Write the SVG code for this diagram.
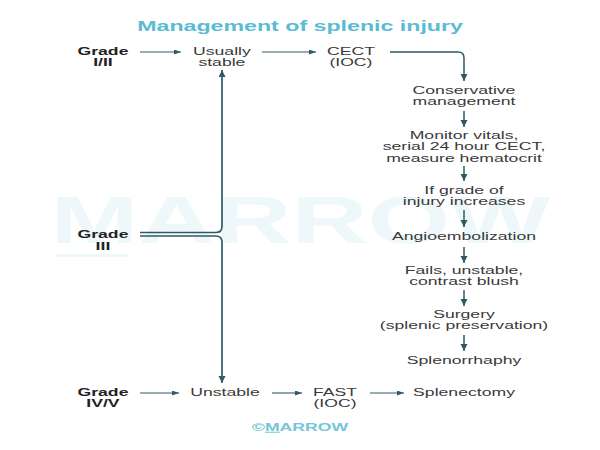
<svg xmlns="http://www.w3.org/2000/svg" width="600" height="450" viewBox="0 0 600 450">
<style>
.t{font-family:"Liberation Sans",Arial,sans-serif;font-size:10.5px;fill:#3a3a3a;text-anchor:middle}
.g{font-weight:bold;fill:#222}
.c{fill:none;stroke:#2e5c66;stroke-width:1.5}
.h{stroke-width:1.1}
.b{stroke-width:1.7}
</style>
<defs>
<marker id="ah" markerUnits="userSpaceOnUse" markerWidth="8" markerHeight="8" refX="7" refY="3.5" orient="auto"><path d="M0,0 L7,3.5 L0,7 z" fill="#2e5c66"/></marker>
<marker id="as" markerUnits="userSpaceOnUse" markerWidth="8" markerHeight="6" refX="7" refY="2.5" orient="auto"><path d="M0,0 L7,2.5 L0,5 z" fill="#2e5c66"/></marker>
</defs>
<rect width="600" height="450" fill="#fff"/>
<g id="watermark" fill="#eef8fa">
<text x="50" y="243" font-family="'Liberation Sans',Arial,sans-serif" font-size="66" font-weight="bold" textLength="500" lengthAdjust="spacingAndGlyphs">MARROW</text>
<rect x="55" y="254" width="73" height="3"/>
</g>
<g id="connectors">
<line class="c h" x1="140" y1="52" x2="181" y2="52" marker-end="url(#as)"/>
<line class="c h" x1="262" y1="52" x2="316" y2="52" marker-end="url(#as)"/>
<path class="c" d="M390,52 H458 Q464,52 464,58 V81" marker-end="url(#ah)"/>
<line class="c" x1="464" y1="111" x2="464" y2="127" marker-end="url(#ah)"/>
<line class="c" x1="464" y1="166" x2="464" y2="181" marker-end="url(#ah)"/>
<line class="c" x1="464" y1="210" x2="464" y2="227" marker-end="url(#ah)"/>
<line class="c" x1="464" y1="247" x2="464" y2="263" marker-end="url(#ah)"/>
<line class="c" x1="464" y1="290" x2="464" y2="306" marker-end="url(#ah)"/>
<line class="c" x1="464" y1="335" x2="464" y2="351" marker-end="url(#ah)"/>
<line class="c h" x1="140" y1="393" x2="179" y2="393" marker-end="url(#as)"/>
<line class="c h" x1="272" y1="393" x2="302" y2="393" marker-end="url(#as)"/>
<line class="c h" x1="370" y1="393" x2="404" y2="393" marker-end="url(#as)"/>
<path class="c b" d="M140,232.5 H216 Q222,232.5 222,226.5 V70" marker-end="url(#ah)"/>
<path class="c b" d="M140,236 H216 Q222,236 222,242 V383" marker-end="url(#ah)"/>
</g>
<g transform="scale(1.68,1)">
<g id="title"><text class="t" x="178.6" y="31" style="font-size:13.8px;font-weight:bold;fill:#5bbbd4">Management of splenic injury</text></g>
<g id="grade12"><text class="t g" x="61.3" y="55">Grade</text><text class="t g" x="61.3" y="66.5">I/II</text></g>
<g id="usually"><text class="t" x="132.1" y="55">Usually</text><text class="t" x="132.1" y="66.5">stable</text></g>
<g id="cect"><text class="t" x="208.9" y="55">CECT</text><text class="t" x="208.9" y="66.5">(IOC)</text></g>
<g id="conservative"><text class="t" x="276.2" y="94">Conservative</text><text class="t" x="276.2" y="105.5">management</text></g>
<g id="monitor"><text class="t" x="276.2" y="139">Monitor vitals,</text><text class="t" x="276.2" y="150.5">serial 24 hour CECT,</text><text class="t" x="276.2" y="162">measure hematocrit</text></g>
<g id="ifgrade"><text class="t" x="276.2" y="194">If grade of</text><text class="t" x="276.2" y="205.5">injury increases</text></g>
<g id="angio"><text class="t" x="276.2" y="240">Angioembolization</text></g>
<g id="fails"><text class="t" x="276.2" y="274">Fails, unstable,</text><text class="t" x="276.2" y="285.5">contrast blush</text></g>
<g id="surgery"><text class="t" x="276.2" y="318">Surgery</text><text class="t" x="276.2" y="329.5">(splenic preservation)</text></g>
<g id="splenorrhaphy"><text class="t" x="276.2" y="364">Splenorrhaphy</text></g>
<g id="grade3"><text class="t g" x="61.3" y="238.5">Grade</text><text class="t g" x="61.3" y="250">III</text></g>
<g id="grade45"><text class="t g" x="61.3" y="396">Grade</text><text class="t g" x="61.3" y="407.5">IV/V</text></g>
<g id="unstable"><text class="t" x="133.9" y="396">Unstable</text></g>
<g id="fast"><text class="t" x="199.4" y="396">FAST</text><text class="t" x="199.4" y="407.5">(IOC)</text></g>
<g id="splenectomy"><text class="t" x="276.2" y="396">Splenectomy</text></g>
<g id="footer"><text class="t" x="178.6" y="431" style="font-weight:bold;fill:#74c6d9">©<tspan text-decoration="underline">M</tspan>ARROW</text></g>
</g>
</svg>
